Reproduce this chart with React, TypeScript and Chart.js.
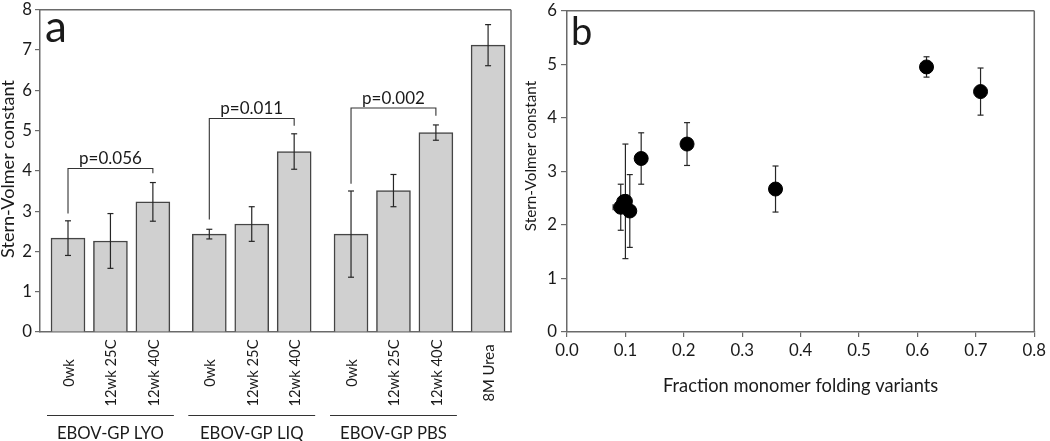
import React, { useEffect, useRef } from "react";
import { Chart, registerables } from "chart.js";
Chart.register(...registerables);

// ---------- Panel a data ----------
const barLabels = ["0wk", "12wk 25C", "12wk 40C", "0wk", "12wk 25C", "12wk 40C", "0wk", "12wk 25C", "12wk 40C", "8M Urea"];
const barValues = [2.33, 2.26, 3.23, 2.43, 2.68, 4.48, 2.43, 3.51, 4.95, 7.12];
const barErrors = [0.43, 0.68, 0.48, 0.12, 0.43, 0.44, 1.07, 0.4, 0.19, 0.51];
const groupNames = ["EBOV-GP LYO", "EBOV-GP LIQ", "EBOV-GP PBS"];
const groupFirst = [0, 3, 6];
const groupLast = [2, 5, 8];
const pLabels = ["p=0.056", "p=0.011", "p=0.002"];
const pFrom = [0, 3, 6];
const pTo = [2, 5, 8];
const pHeights = [4.06, 5.3, 5.56];
const pLeftEnds = [2.94, 2.79, 3.68];
const pRightEnds = [3.94, 5.12, 5.37];

// ---------- Panel b data ----------
const fractionX = [0.092, 0.1, 0.097, 0.1075, 0.127, 0.2055, 0.357, 0.6155, 0.708];
const fractionXErr = [0.013, 0, 0, 0, 0, 0, 0, 0, 0];
const svY = [2.33, 2.44, 2.43, 2.26, 3.24, 3.51, 2.67, 4.95, 4.49];
const svYErr = [0.43, 1.07, 0.12, 0.68, 0.48, 0.4, 0.43, 0.19, 0.44];

// layout: slot position of each bar along the x axis of panel a
const barSlots = [1, 2, 3, 4.33, 5.33, 6.33, 7.67, 8.67, 9.67, 10.9];

const FONT = "Lato, 'Open Sans', sans-serif";
const TEXT = "#1a1a1a";
const AXIS = "#6a6a6a";

function fitSize(text: string, width: number): number {
  const c = document.createElement("canvas").getContext("2d") as CanvasRenderingContext2D;
  c.font = `100px ${FONT}`;
  const w = c.measureText(text).width;
  return Math.round((100 * width) / w * 10) / 10;
}

function drawLine(ctx: CanvasRenderingContext2D, x1: number, y1: number, x2: number, y2: number) {
  ctx.beginPath();
  ctx.moveTo(x1, y1);
  ctx.lineTo(x2, y2);
  ctx.stroke();
}

export default function App() {
  const leftRef = useRef<HTMLCanvasElement | null>(null);
  const rightRef = useRef<HTMLCanvasElement | null>(null);

  useEffect(() => {
    const sz = {
      tick: fitSize("0.2", 23.5),
      yTitleA: fitSize("Stern-Volmer constant", 178),
      yTitleB: fitSize("Stern-Volmer constant", 150),
      xTitleB: fitSize("Fraction monomer folding variants", 275),
      group: fitSize("EBOV-GP LYO", 107),
      cat: fitSize("12wk 25C", 67),
      p: fitSize("p=0.056", 63),
    };

    const leftDecor = {
      id: "leftDecor",
      afterDatasetsDraw(chart: any) {
        const { ctx, chartArea, scales } = chart;
        const x = scales.x;
        const y = scales.y;
        ctx.save();
        ctx.strokeStyle = AXIS;
        ctx.lineWidth = 1.5;
        drawLine(ctx, chartArea.left, chartArea.top, chartArea.right, chartArea.top);
        drawLine(ctx, chartArea.right, chartArea.top, chartArea.right, chartArea.bottom);
        ctx.strokeStyle = "#262626";
        ctx.lineWidth = 1.2;
        barValues.forEach((v, i) => {
          const px = x.getPixelForValue(barSlots[i]);
          const yt = y.getPixelForValue(v + barErrors[i]);
          const yb = y.getPixelForValue(v - barErrors[i]);
          drawLine(ctx, px, yt, px, yb);
          drawLine(ctx, px - 3, yt, px + 3, yt);
          drawLine(ctx, px - 3, yb, px + 3, yb);
        });
        ctx.strokeStyle = "#333";
        ctx.lineWidth = 1.1;
        ctx.fillStyle = TEXT;
        ctx.font = `${sz.p}px ${FONT}`;
        ctx.textAlign = "center";
        ctx.textBaseline = "alphabetic";
        pLabels.forEach((lab, i) => {
          const x1 = x.getPixelForValue(barSlots[pFrom[i]]);
          const x2 = x.getPixelForValue(barSlots[pTo[i]]);
          const yh = y.getPixelForValue(pHeights[i]);
          ctx.beginPath();
          ctx.moveTo(x1, y.getPixelForValue(pLeftEnds[i]));
          ctx.lineTo(x1, yh);
          ctx.lineTo(x2, yh);
          ctx.lineTo(x2, y.getPixelForValue(pRightEnds[i]));
          ctx.stroke();
          ctx.fillText(lab, (x1 + x2) / 2, yh - 4.5);
        });
        ctx.font = `${sz.cat}px ${FONT}`;
        ctx.textBaseline = "middle";
        ctx.textAlign = "center";
        barLabels.forEach((lab, i) => {
          const px = x.getPixelForValue(barSlots[i]);
          ctx.save();
          ctx.translate(px + 1, 373);
          ctx.rotate(-Math.PI / 2);
          ctx.fillText(lab, 0, 0);
          ctx.restore();
        });
        ctx.strokeStyle = "#333";
        ctx.lineWidth = 1;
        ctx.font = `${sz.group}px ${FONT}`;
        ctx.textBaseline = "alphabetic";
        groupNames.forEach((name, g) => {
          const xa = x.getPixelForValue(barSlots[groupFirst[g]]) - 21;
          const xb = x.getPixelForValue(barSlots[groupLast[g]]) + 21;
          drawLine(ctx, xa, 415.5, xb, 415.5);
          ctx.fillText(name, (xa + xb) / 2, 438.5);
        });
        ctx.font = `${sz.yTitleA}px ${FONT}`;
        ctx.textBaseline = "middle";
        ctx.save();
        ctx.translate(8, 169);
        ctx.rotate(-Math.PI / 2);
        ctx.fillText("Stern-Volmer constant", 0, 0);
        ctx.restore();
        ctx.font = `44px ${FONT}`;
        ctx.textAlign = "left";
        ctx.textBaseline = "alphabetic";
        ctx.fillText("a", 45, 42);
        ctx.restore();
      },
    };

    const rightDecor = {
      id: "rightDecor",
      beforeDatasetsDraw(chart: any) {
        const { ctx, chartArea, scales } = chart;
        const x = scales.x;
        const y = scales.y;
        ctx.save();
        ctx.strokeStyle = AXIS;
        ctx.lineWidth = 1.5;
        drawLine(ctx, chartArea.left, chartArea.top, chartArea.right, chartArea.top);
        drawLine(ctx, chartArea.right, chartArea.top, chartArea.right, chartArea.bottom);
        ctx.strokeStyle = "#262626";
        ctx.lineWidth = 1.2;
        svY.forEach((v, i) => {
          const px = x.getPixelForValue(fractionX[i]);
          const py = y.getPixelForValue(v);
          const yt = y.getPixelForValue(v + svYErr[i]);
          const yb = y.getPixelForValue(v - svYErr[i]);
          drawLine(ctx, px, yt, px, yb);
          drawLine(ctx, px - 3, yt, px + 3, yt);
          drawLine(ctx, px - 3, yb, px + 3, yb);
          if (fractionXErr[i] > 0) {
            const xl = x.getPixelForValue(fractionX[i] - fractionXErr[i]);
            const xr = x.getPixelForValue(fractionX[i] + fractionXErr[i]);
            drawLine(ctx, xl, py, xr, py);
            drawLine(ctx, xl, py - 3, xl, py + 3);
            drawLine(ctx, xr, py - 3, xr, py + 3);
          }
        });
        ctx.restore();
      },
      afterDatasetsDraw(chart: any) {
        const { ctx, chartArea } = chart;
        ctx.save();
        ctx.fillStyle = TEXT;
        ctx.textAlign = "center";
        ctx.font = `${sz.yTitleB}px ${FONT}`;
        ctx.textBaseline = "middle";
        ctx.save();
        ctx.translate(16, 156);
        ctx.rotate(-Math.PI / 2);
        ctx.fillText("Stern-Volmer constant", 0, 0);
        ctx.restore();
        ctx.font = `${sz.xTitleB}px ${FONT}`;
        ctx.textBaseline = "alphabetic";
        ctx.fillText("Fraction monomer folding variants", (chartArea.left + chartArea.right) / 2, 392);
        ctx.font = `38px ${FONT}`;
        ctx.textAlign = "left";
        ctx.fillText("b", 56, 45);
        ctx.restore();
      },
    };

    const left = new Chart(leftRef.current as HTMLCanvasElement, {
      type: "bar",
      data: {
        datasets: [
          {
            data: barValues.map((v, i) => ({ x: barSlots[i], y: v })),
            backgroundColor: "#d0d0d0",
            borderColor: "#454545",
            borderWidth: 1.5,
            barThickness: 34,
          } as any,
        ],
      },
      options: {
        animation: false,
        responsive: false,
        layout: { padding: { left: 0, top: 8, right: 4, bottom: 0 } },
        plugins: { legend: { display: false }, tooltip: { enabled: false } },
        scales: {
          x: {
            type: "linear",
            min: 0.34,
            max: 11.44,
            offset: false,
            ticks: { display: false },
            grid: { display: false },
            border: { color: AXIS, width: 1.5 },
            afterFit: (s: any) => {
              s.height = 109;
            },
          },
          y: {
            min: 0,
            max: 8,
            ticks: { stepSize: 1, color: TEXT, font: { family: FONT, size: sz.tick, lineHeight: 0.8 }, padding: 3 },
            grid: { drawOnChartArea: false, drawTicks: true, tickLength: 5, color: AXIS, lineWidth: 1.2 },
            border: { color: AXIS, width: 1.5 },
            afterFit: (s: any) => {
              s.width = 40;
            },
          },
        },
      } as any,
      plugins: [leftDecor],
    });

    const right = new Chart(rightRef.current as HTMLCanvasElement, {
      type: "scatter",
      data: {
        datasets: [
          {
            data: fractionX.map((v, i) => ({ x: v, y: svY[i] })),
            backgroundColor: "#000",
            borderColor: "#000",
            pointRadius: 7,
            pointHoverRadius: 7,
          },
        ],
      },
      options: {
        animation: false,
        responsive: false,
        layout: { padding: { left: 0, top: 8, right: 12, bottom: 0 } },
        plugins: { legend: { display: false }, tooltip: { enabled: false } },
        scales: {
          x: {
            type: "linear",
            min: 0,
            max: 0.8,
            ticks: {
              stepSize: 0.1,
              color: TEXT,
              font: { family: FONT, size: sz.tick, lineHeight: 1.2 },
              padding: 4,
              callback: (v: any) => Number(v).toFixed(1),
            },
            grid: { drawOnChartArea: false, drawTicks: true, tickLength: 5, color: AXIS, lineWidth: 1.2 },
            border: { color: AXIS, width: 1.5 },
            afterFit: (s: any) => {
              s.height = 109;
            },
          },
          y: {
            min: 0,
            max: 6,
            ticks: { stepSize: 1, color: TEXT, font: { family: FONT, size: sz.tick, lineHeight: 0.8 }, padding: 4 },
            grid: { drawOnChartArea: false, drawTicks: true, tickLength: 6, color: AXIS, lineWidth: 1.2 },
            border: { color: AXIS, width: 1.5 },
            afterFit: (s: any) => {
              s.width = 52;
            },
          },
        },
      } as any,
      plugins: [rightDecor],
    });

    return () => {
      left.destroy();
      right.destroy();
    };
  }, []);

  return (
    <div style={{ position: "fixed", left: 0, top: 0, width: 1050, height: 441, background: "#fff" }}>
      <canvas ref={leftRef} width={515} height={441} style={{ position: "absolute", left: 0, top: 0, width: 515, height: 441 }} />
      <canvas ref={rightRef} width={535} height={441} style={{ position: "absolute", left: 515, top: 0, width: 535, height: 441 }} />
    </div>
  );
}
